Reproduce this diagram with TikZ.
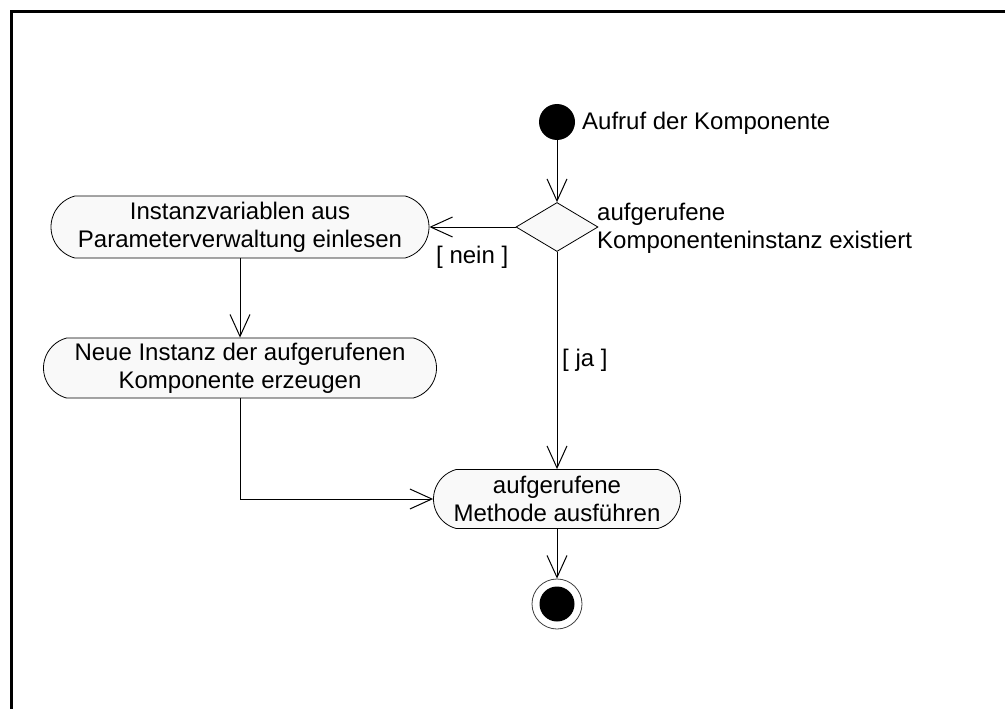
\documentclass[tikz,border=0pt]{standalone}
\usepackage{fontspec}
\setmainfont{Liberation Sans}
\usetikzlibrary{shapes.geometric,shapes.misc,arrows.meta}
\begin{document}
\begin{tikzpicture}[x=1pt,y=-1pt,
  every node/.style={font=\fontsize{24}{28}\selectfont},
  activity/.style={rounded rectangle, rounded rectangle arc length=150, draw,
    fill=gray!5, line width=0.8pt, inner sep=0pt, align=center},
  flow/.style={draw, line width=1pt,
    -{Straight Barb[length=22pt,width=20pt,line width=1pt]}},
  lbl/.style={inner sep=0pt, anchor=west, align=left}
]
\useasboundingbox (0,0) rectangle (1005,709);
% frame
\draw[line width=2.2pt] (11.5,709) -- (11.5,11.5) -- (1005,11.5);

% initial state and decision
\node[circle, fill=black, minimum size=36pt, inner sep=0pt] (start) at (557,122) {};
\node[lbl] (startlbl) at (582,123) {Aufruf der Komponente};
\node[diamond, draw, fill=gray!5, line width=0.8pt, minimum width=82pt,
  minimum height=49pt, inner sep=0pt, aspect=1.67] (dec) at (557,227) {};
\node[lbl] (declbl) at (597,228) {aufgerufene\\Komponenteninstanz existiert};

% activities
\node[activity, minimum width=378pt, minimum height=62pt] (inst) at (240,227)
  {Instanzvariablen aus\\Parameterverwaltung einlesen};
\node[activity, minimum width=393pt, minimum height=60pt] (neu) at (240,368)
  {Neue Instanz der aufgerufenen\\Komponente erzeugen};
\node[activity, minimum width=247pt, minimum height=59pt] (meth) at (557,499)
  {aufgerufene\\Methode ausführen};

% final state
\node[circle, draw=black!75, line width=0.8pt, minimum size=50pt, inner sep=0pt] (end) at (557,604) {};
\node[circle, fill=black, minimum size=35pt, inner sep=0pt] (endcore) at (end.center) {};

% transitions
\draw[flow] (start) -- (dec.north);
\draw[flow] (dec.west) -- (inst.east);
\draw[flow] (inst.south) -- (neu.north);
\draw[flow] (neu.south) |- (meth.west);
\draw[flow] (dec.south) -- (meth.north);
\draw[flow] (meth.south) -- (end.north);

% guards
\node[lbl] (nein) at (436,257) {[ nein ]};
\node[lbl] (ja) at (562,360) {[ ja ]};
\end{tikzpicture}
\end{document}
